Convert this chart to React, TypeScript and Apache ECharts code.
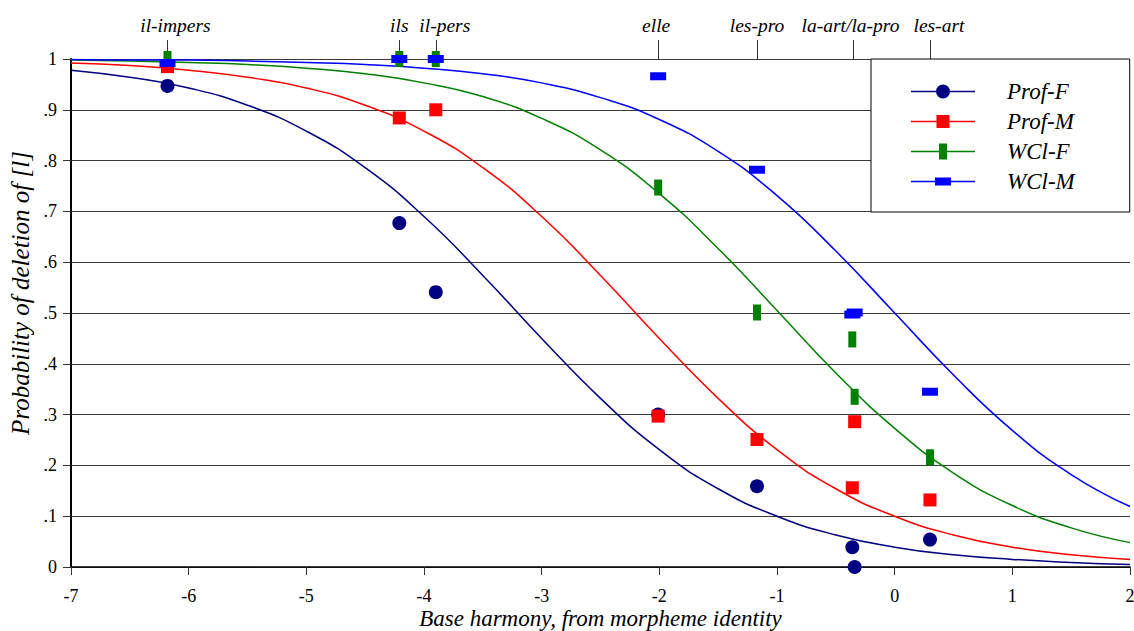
import React, { useEffect, useRef } from 'react';
import * as echarts from 'echarts';

// Fitted curves at x = -7 .. 2 (step 0.5)
const curveX = [-7, -6.5, -6, -5.5, -5, -4.5, -4, -3.5, -3, -2.5, -2, -1.5, -1, -0.5, 0, 0.5, 1, 1.5, 2];
const profFCurve = [0.978, 0.964, 0.943, 0.909, 0.858, 0.786, 0.69, 0.574, 0.45, 0.332, 0.231, 0.154, 0.1, 0.063, 0.039, 0.024, 0.015, 0.009, 0.005];
const profMCurve = [0.992, 0.987, 0.978, 0.964, 0.943, 0.909, 0.858, 0.786, 0.69, 0.574, 0.45, 0.332, 0.231, 0.154, 0.1, 0.063, 0.039, 0.024, 0.015];
const wclFCurve = [0.998, 0.996, 0.993, 0.989, 0.982, 0.971, 0.953, 0.926, 0.883, 0.821, 0.735, 0.627, 0.505, 0.382, 0.273, 0.185, 0.121, 0.077, 0.048];
const wclMCurve = [0.999, 0.998, 0.998, 0.996, 0.993, 0.989, 0.982, 0.971, 0.953, 0.924, 0.881, 0.818, 0.731, 0.622, 0.5, 0.378, 0.269, 0.182, 0.119];

// Observed points
const pointX = [-6.18, -4.21, -3.9, -2.01, -1.17, -0.36, -0.34, 0.3];
const profFPts = [0.947, 0.677, 0.541, 0.3, 0.159, 0.039, 0.0, 0.054];
const profMPts = [0.985, 0.884, 0.9, 0.297, 0.251, 0.156, 0.286, 0.132];
const wclFPts = [1.0, 1.0, 1.0, 0.747, 0.501, 0.448, 0.335, 0.216];
const wclMPts = [0.992, 1.0, 1.0, 0.966, 0.782, 0.497, 0.501, 0.345];

// Top category labels
const topTickX = [-6.18, -4.21, -3.9, -2.01, -1.17, -0.35, 0.3];
const topTickLabels = ['il-impers', 'ils', 'il-pers', 'elle', 'les-pro', 'la-art/la-pro', 'les-art'];
const topLabelShift = [8, 0, 9, -2, 0, -3, 9];

const seriesNames = ['Prof-F', 'Prof-M', 'WCl-F', 'WCl-M'];
const seriesColors = ['#000080', '#ff0000', '#008000', '#0000ff'];

const FONT = "'Liberation Serif', 'Times New Roman', serif";

const legendIcons = [
  'path://M0,7.25H25V8.75H0Z M39,7.25H64V8.75H39Z M25,8A7,7 0 1,1 39,8A7,7 0 1,1 25,8Z',
  'path://M0,7.25H25.5V8.75H0Z M38.5,7.25H64V8.75H38.5Z M25.5,1.5H38.5V14.5H25.5Z',
  'path://M0,7.25H28V8.75H0Z M36,7.25H64V8.75H36Z M28,0H36V16H28Z',
  'path://M0,7.25H24V8.75H0Z M40,7.25H64V8.75H40Z M24,4H40V12H24Z',
];

const markerSymbols = ['circle', 'rect', 'rect', 'rect'];
const markerSizes: any[] = [14, 13, [8, 16], [16, 8]];

function nearestIndex(v: number) {
  let best = 0;
  for (let i = 1; i < topTickX.length; i++) {
    if (Math.abs(topTickX[i] - v) < Math.abs(topTickX[best] - v)) best = i;
  }
  return best;
}

export default function App() {
  const ref = useRef<HTMLDivElement>(null);
  useEffect(() => {
    const chart = echarts.init(ref.current!, null, { renderer: 'svg' });
    const curves = [profFCurve, profMCurve, wclFCurve, wclMCurve];
    const pts = [profFPts, profMPts, wclFPts, wclMPts];

    const rich: any = {};
    topTickLabels.forEach((_, i) => {
      const s = topLabelShift[i];
      rich['s' + i] = {
        fontFamily: FONT,
        fontStyle: 'italic',
        fontSize: 19.5,
        color: '#000',
        padding: s >= 0 ? [0, 0, 0, 2 * s] : [0, -2 * s, 0, 0],
      };
    });

    const series: any[] = [];
    seriesNames.forEach((name, i) => {
      series.push({
        type: 'line',
        name,
        data: curveX.map((x, j) => [x, curves[i][j]]),
        showSymbol: false,
        symbol: 'none',
        smooth: 0.5,
        silent: true,
        lineStyle: { color: seriesColors[i], width: 1.5 },
        itemStyle: { color: seriesColors[i] },
        z: 2,
      });
    });
    seriesNames.forEach((name, i) => {
      series.push({
        type: 'scatter',
        name: name + ' obs',
        data: pointX.map((x, j) => [x, pts[i][j]]),
        symbol: markerSymbols[i],
        symbolSize: markerSizes[i],
        itemStyle: { color: seriesColors[i], opacity: 1 },
        clip: false,
        silent: true,
        z: 3 + i,
      });
    });

    chart.setOption({
      animation: false,
      backgroundColor: '#fff',
      grid: { left: 71, right: 4, top: 59, bottom: 64, containLabel: false, outerBoundsMode: 'none' },
      legend: {
        orient: 'vertical',
        left: 871,
        top: 59,
        itemWidth: 64,
        itemHeight: 16,
        itemGap: 7,
        padding: [21, 55, 19, 40],
        backgroundColor: '#fff',
        borderColor: '#000',
        borderWidth: 1,
        selectedMode: false,
        textStyle: {
          fontFamily: FONT,
          fontStyle: 'italic',
          fontSize: 23,
          color: '#000',
          padding: [0, 0, 0, 27],
        },
        data: seriesNames.map((n, i) => ({
          name: n,
          icon: legendIcons[i],
          itemStyle: { color: seriesColors[i], borderWidth: 0 },
        })),
      },
      xAxis: [
        {
          type: 'value',
          min: -7,
          max: 2,
          interval: 1,
          position: 'bottom',
          name: 'Base harmony, from morpheme identity',
          nameLocation: 'middle',
          nameGap: 40,
          nameMoveOverlap: false,
          nameTextStyle: { fontFamily: FONT, fontStyle: 'italic', fontSize: 23, color: '#000' },
          axisLine: { show: true, onZero: false, lineStyle: { color: '#000', width: 1.5 } },
          axisTick: { show: true, length: 8, lineStyle: { color: '#333', width: 1 } },
          axisLabel: { fontFamily: FONT, fontSize: 18, color: '#000', margin: 20 },
          splitLine: { show: false },
        },
        {
          type: 'value',
          min: -7,
          max: 2,
          position: 'top',
          axisLine: { show: false, onZero: false },
          axisTick: { show: true, length: 19, customValues: topTickX, lineStyle: { color: '#333', width: 1 } },
          axisLabel: {
            customValues: topTickX,
            margin: 24,
            formatter: (v: number) => {
              const i = nearestIndex(v);
              return '{s' + i + '|' + topTickLabels[i] + '}';
            },
            rich,
          },
          splitLine: { show: false },
        },
      ],
      yAxis: {
        type: 'value',
        min: 0,
        max: 1,
        interval: 0.1,
        name: 'Probability of deletion of [l]',
        nameLocation: 'middle',
        nameGap: 38,
        nameMoveOverlap: false,
        nameTextStyle: { fontFamily: FONT, fontStyle: 'italic', fontSize: 25, color: '#000', padding: [0, 0, 0, 40] },
        axisLine: { show: true, onZero: false, lineStyle: { color: '#000', width: 2 } },
        axisTick: { show: true, length: 8, lineStyle: { color: '#333', width: 1 } },
        axisLabel: {
          fontFamily: FONT,
          fontSize: 18,
          color: '#000',
          margin: 14,
          formatter: (v: number) => {
            const t = Math.round(v * 10);
            if (t === 0) return '0';
            if (t === 10) return '1';
            return '.' + t;
          },
        },
        splitLine: { show: true, lineStyle: { color: '#3a3a3a', width: 1 } },
      },
      series,
    });
    return () => chart.dispose();
  }, []);
  return (
    <div
      ref={ref}
      style={{ position: 'fixed', left: 0, top: 0, width: 1134, height: 631, background: '#fff' }}
    />
  );
}
